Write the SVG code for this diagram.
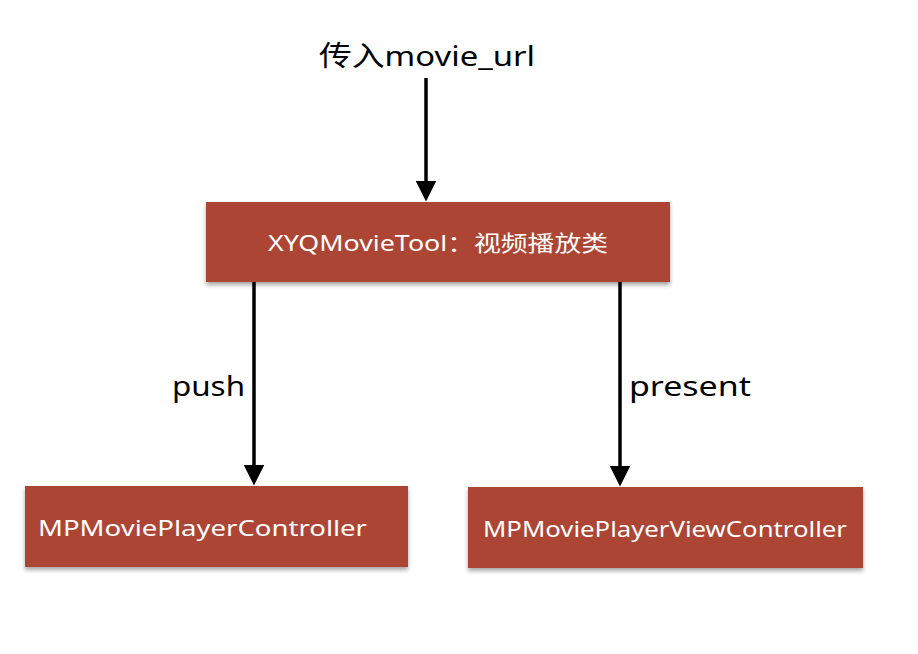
<svg xmlns="http://www.w3.org/2000/svg" width="918" height="654" viewBox="0 0 918 654">
<style>
.box{fill:#ad4536;filter:url(#sh);}
.bt{font-family:"Noto Sans","Liberation Sans","Noto Sans CJK SC",sans-serif;font-size:22px;fill:#ffffff;}
.lt{font-family:"Noto Sans","Liberation Sans","Noto Sans CJK SC",sans-serif;font-size:28px;fill:#000000;}
.ln{stroke:#000;stroke-width:3.5;fill:none;marker-end:url(#ah);}
</style>
<defs>
<filter id="sh" x="-5%" y="-10%" width="110%" height="130%">
<feDropShadow dx="0" dy="3" stdDeviation="2" flood-color="#000" flood-opacity="0.35"/>
</filter>
<marker id="ah" markerWidth="6" markerHeight="6" refX="5" refY="3" orient="auto" markerUnits="strokeWidth">
<path d="M0,0 L6,3 L0,6 Z" fill="#000"/>
</marker>
</defs>
<rect width="918" height="654" fill="#ffffff"/>
<text class="lt" x="427" y="66" text-anchor="middle" font-size="30" textLength="216" lengthAdjust="spacingAndGlyphs">传入movie_url</text>
<g id="connectors">
<line class="ln" x1="426" y1="78" x2="426" y2="198"/>
<line class="ln" x1="254" y1="282" x2="254" y2="482"/>
<line class="ln" x1="620" y1="282" x2="620" y2="483"/>
<text class="lt" x="172" y="396" textLength="73" lengthAdjust="spacingAndGlyphs">push</text>
<text class="lt" x="629" y="396" textLength="122" lengthAdjust="spacingAndGlyphs">present</text>
</g>
<g id="tool">
<rect class="box" x="206" y="202" width="464" height="80"/>
<text class="bt" x="438" y="251" text-anchor="middle" textLength="340" lengthAdjust="spacingAndGlyphs">XYQMovieTool：视频播放类</text>
</g>
<g id="player">
<rect class="box" x="25" y="486" width="383" height="81"/>
<text class="bt" x="38" y="536" textLength="329" lengthAdjust="spacingAndGlyphs">MPMoviePlayerController</text>
</g>
<g id="viewplayer">
<rect class="box" x="468" y="487" width="395" height="81"/>
<text class="bt" x="483" y="537" textLength="364" lengthAdjust="spacingAndGlyphs">MPMoviePlayerViewController</text>
</g>
</svg>
